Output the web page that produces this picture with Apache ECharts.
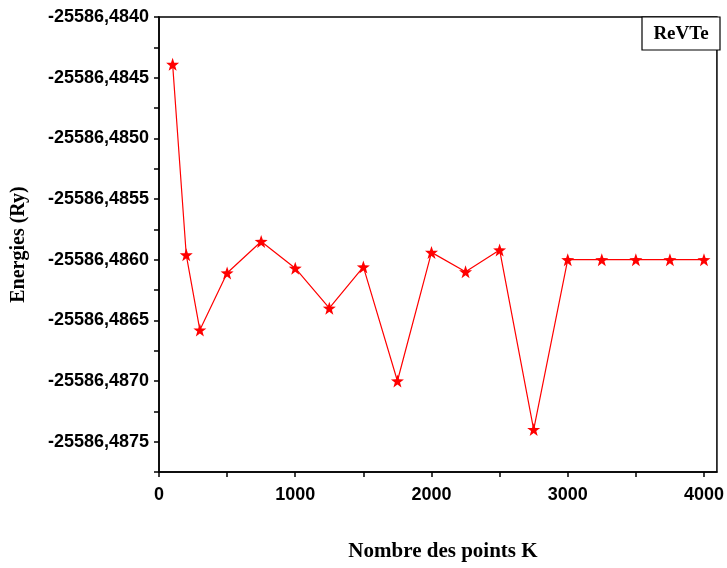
<!DOCTYPE html><html><head><meta charset="utf-8"><script src="https://cdn.jsdelivr.net/npm/echarts@6/dist/echarts.min.js"></script></head><body style="margin:0"><div id="c" style="width:727px;height:568px"></div><script>
const kPoints=[100,200,300,500,750,1000,1250,1500,1750,2000,2250,2500,2750,3000,3250,3500,3750,4000];
const energies=[-25586.48439,-25586.48596,-25586.48658,-25586.48611,-25586.48585,-25586.48607,-25586.48640,-25586.48606,-25586.48700,-25586.48594,-25586.48610,-25586.48592,-25586.48740,-25586.48600,-25586.48600,-25586.48600,-25586.48600,-25586.48600];
const yTicks=[-25586.4840,-25586.4845,-25586.4850,-25586.4855,-25586.4860,-25586.4865,-25586.4870,-25586.4875];
const xTicks=[0,1000,2000,3000,4000];
const REF=-25586.4840;
const toU=e=>Math.round((e-REF)*1e5)/10;
const f='Arial';
const ch=echarts.init(document.getElementById('c'));
ch.setOption({animation:false,
grid:{left:159,top:17,width:561,height:455,show:true,borderColor:'#000',borderWidth:1.5},
xAxis:{type:'value',min:0,max:4095,interval:500,axisLine:{onZero:false,lineStyle:{color:'#000',width:1.5}},
 axisTick:{length:5,lineStyle:{color:'#000',width:1.5}},
 axisLabel:{color:'#000',fontFamily:f,fontWeight:'bold',fontSize:18,margin:14,showMaxLabel:false,formatter:v=>xTicks.includes(v)?String(v):''},splitLine:{show:false},
 name:'Nombre des points K',nameLocation:'middle',nameGap:69,nameTextStyle:{fontFamily:'Liberation Serif',fontWeight:'bold',fontSize:21,color:'#000',padding:[0,0,0,10]}},
yAxis:{type:'value',min:-37.5,max:0,interval:2.5,axisLine:{onZero:false,lineStyle:{color:'#000',width:1.5}},
 axisTick:{length:5,lineStyle:{color:'#000',width:1.5}},
 axisLabel:{color:'#000',fontFamily:f,fontWeight:'bold',fontSize:18,margin:10,formatter:v=>{const s=(REF+v*1e-4).toFixed(4);return yTicks.some(t=>t.toFixed(4)===s)?s.replace('.',','):'';}},splitLine:{show:false},
 name:'Energies (Ry)',nameLocation:'middle',nameGap:130,nameTextStyle:{fontFamily:'Liberation Serif',fontWeight:'bold',fontSize:20,color:'#000'}},
series:[{type:'line',data:kPoints.map((k,i)=>[k,toU(energies[i])]),symbol:'path://M0,-10L2.35,-3.24L9.51,-3.09L3.8,1.24L5.88,8.09L0,4L-5.88,8.09L-3.8,1.24L-9.51,-3.09L-2.35,-3.24Z',symbolSize:13,
 itemStyle:{color:'#ff0000'},lineStyle:{color:'#ff0000',width:1.2}}],
graphic:[{type:'rect',shape:{x:642,y:17,width:78,height:33},style:{fill:'#fff',stroke:'#000',lineWidth:1.2}},
 {type:'text',x:681,y:34,style:{text:'ReVTe',font:'bold 19px "Liberation Serif"',fill:'#000',align:'center',verticalAlign:'middle'}}]
});
</script></body></html>
